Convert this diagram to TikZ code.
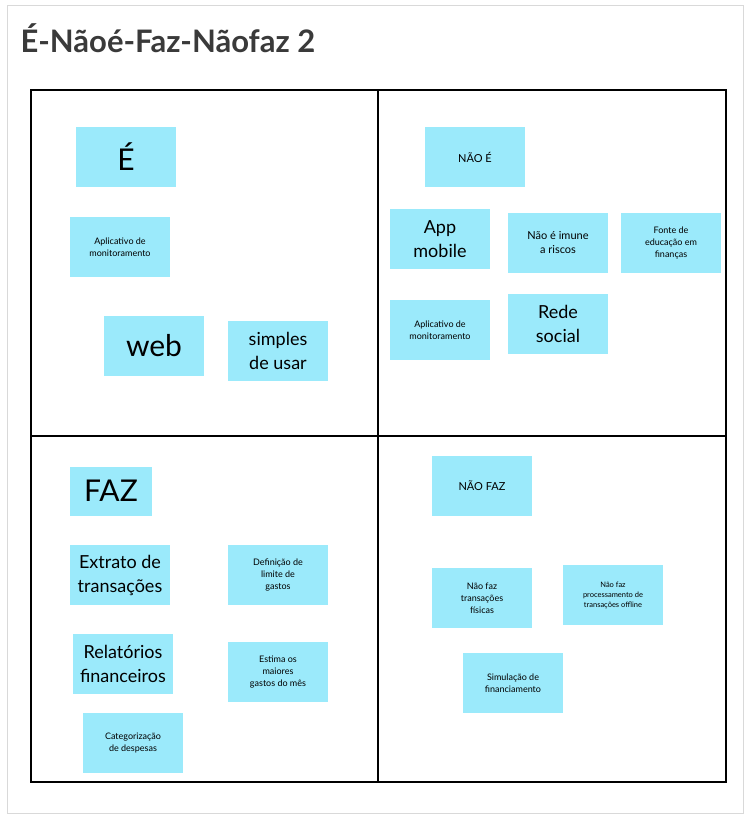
\documentclass[tikz,border=0pt]{standalone}
\usepackage{fontspec}
\setmainfont{Lato}
\definecolor{sticky}{HTML}{9BEAFB}
\definecolor{ttl}{HTML}{3A3A3A}
\tikzset{
 note/.style={fill=sticky,minimum width=100pt,minimum height=60pt,align=center,inner sep=2pt,font=\fontsize{12}{15}\selectfont},
 big/.style={font=\fontsize{30}{32}\selectfont},
 mid/.style={font=\fontsize{18}{24}\selectfont},
 sml/.style={font=\fontsize{11}{14}\selectfont},
 tiny/.style={font=\fontsize{9}{12}\selectfont},
}
\begin{document}
\begin{tikzpicture}[x=1pt,y=-1pt]
\useasboundingbox (0,0) rectangle (750,819);
\fill[white] (0,0) rectangle (750,819);
\draw[black!15] (7,5) rectangle (743,813);
\node[anchor=west,text=ttl,font=\fontsize{31}{36}\selectfont\bfseries] (title) at (17,38) {É-Nãoé-Faz-Nãofaz 2};
\draw[line width=1.6pt] (31,90) rectangle (726,782);
\draw[line width=1.6pt] (378,90) -- (378,782);
\draw[line width=1.6pt] (31,436) -- (726,436);
\newcommand{\nt}[5]{\node[note,#1,minimum width=#4pt] (#2) at (#3) {#5};}
\nt{big}{e}{126,157}{100}{É}
\nt{tiny}{ap1}{120,247}{100}{Aplicativo de\\monitoramento}
\nt{big}{web}{154,346}{100}{web}
\nt{mid}{sim}{278,351}{100}{simples\\de usar}
\nt{sml}{nae}{475,157}{100}{NÃO É}
\nt{mid}{app}{440,239}{100}{App\\mobile}
\nt{sml}{imu}{558,243}{100}{Não é imune\\a riscos}
\nt{tiny}{fon}{671,243}{100}{Fonte de\\educação em\\finanças}
\nt{tiny}{ap2}{440,330}{100}{Aplicativo de\\monitoramento}
\nt{mid}{rede}{558,324}{100}{Rede\\social}
\node[note,big,minimum width=82pt,minimum height=49pt] (faz) at (111,491) {FAZ};
\nt{mid}{ext}{120,575}{100}{Extrato de\\transações}
\nt{tiny}{def}{278,575}{100}{Definição de\\limite de\\gastos}
\nt{mid}{rel}{123,664}{100}{Relatórios\\financeiros}
\nt{tiny}{est}{278,672}{100}{Estima os\\maiores\\gastos do mês}
\nt{tiny}{cat}{133,743}{100}{Categorização\\de despesas}
\nt{sml}{naf}{482,486}{100}{NÃO FAZ}
\nt{tiny}{fis}{482,598}{100}{Não faz\\transações\\físicas}
\node[note,font=\fontsize{7.5}{10}\selectfont] (off) at (613,595) {Não faz\\processamento de\\transações offline};
\nt{tiny}{simf}{513,683}{100}{Simulação de\\financiamento}
\end{tikzpicture}
\end{document}
